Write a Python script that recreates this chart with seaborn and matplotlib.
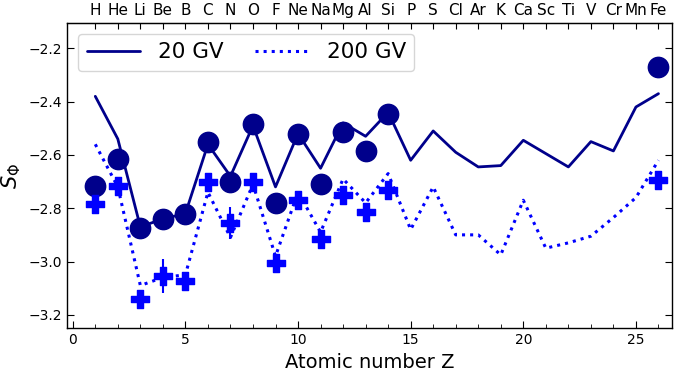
import numpy as np
import pandas as pd
import matplotlib
matplotlib.use("Agg")
import matplotlib.pyplot as plt
import seaborn as sns
from matplotlib.ticker import MultipleLocator

# Element symbols for the top axis
elements = ['H', 'He', 'Li', 'Be', 'B', 'C', 'N', 'O', 'F', 'Ne', 'Na', 'Mg', 'Al',
            'Si', 'P', 'S', 'Cl', 'Ar', 'K', 'Ca', 'Sc', 'Ti', 'V', 'Cr', 'Mn', 'Fe']
z_all = list(range(1, 27))

# Model curves
model_20gv = [-2.38, -2.54, -2.87, -2.84, -2.82, -2.56, -2.68, -2.49, -2.72, -2.52,
              -2.65, -2.48, -2.53, -2.44, -2.62, -2.51, -2.59, -2.645, -2.64, -2.545,
              -2.595, -2.645, -2.55, -2.585, -2.42, -2.37]
model_200gv = [-2.56, -2.72, -3.09, -3.06, -3.05, -2.74, -2.91, -2.71, -2.98, -2.74,
               -2.89, -2.69, -2.78, -2.67, -2.88, -2.72, -2.90, -2.90, -2.975, -2.77,
               -2.95, -2.93, -2.905, -2.835, -2.76, -2.62]

# Data points
z_data = [1, 2, 3, 4, 5, 6, 7, 8, 9, 10, 11, 12, 13, 14, 26]
data_20gv = [-2.715, -2.615, -2.875, -2.84, -2.82, -2.55, -2.70, -2.485, -2.78, -2.52,
             -2.71, -2.515, -2.585, -2.445, -2.27]
data_200gv = [-2.785, -2.715, -3.14, -3.055, -3.075, -2.70, -2.855, -2.70, -3.005, -2.77,
              -2.915, -2.75, -2.815, -2.73, -2.695]
err_200gv = [0.02, 0.02, 0.03, 0.065, 0.03, 0.02, 0.06, 0.02, 0.03, 0.02,
             0.03, 0.02, 0.03, 0.02, 0.02]

sns.set_style("ticks")
plt.rcParams['font.family'] = ['DejaVu Sans']
plt.rcParams['text.color'] = 'black'
plt.rcParams['axes.labelcolor'] = 'black'
plt.rcParams['xtick.color'] = 'black'
plt.rcParams['ytick.color'] = 'black'

fig, ax = plt.subplots(figsize=(6.85, 3.72), dpi=100)
fig.subplots_adjust(left=0.098, right=0.981, bottom=0.118, top=0.938)

df_model = pd.DataFrame({'Z': z_all, 's20': model_20gv, 's200': model_200gv})
df_data = pd.DataFrame({'Z': z_data, 'd20': data_20gv, 'd200': data_200gv, 'e200': err_200gv})

sns.lineplot(data=df_model, x='Z', y='s20', color='darkblue', lw=2, label='20 GV', ax=ax)
sns.lineplot(data=df_model, x='Z', y='s200', color='blue', lw=2.2, ls=':', label='200 GV', ax=ax)

ax.errorbar(df_data['Z'], df_data['d200'], yerr=df_data['e200'], fmt='none',
            ecolor='blue', elinewidth=1.5, zorder=3)
sns.scatterplot(data=df_data, x='Z', y='d20', color='darkblue', s=210, marker='o',
                edgecolor='darkblue', legend=False, zorder=4, ax=ax)
sns.scatterplot(data=df_data, x='Z', y='d200', color='blue', s=160, marker='P',
                edgecolor='blue', legend=False, zorder=4, ax=ax)

ax.set_xlim(-0.25, 26.6)
ax.set_ylim(-3.25, -2.105)
ax.xaxis.set_major_locator(MultipleLocator(5))
ax.xaxis.set_minor_locator(MultipleLocator(1))
ax.yaxis.set_major_locator(MultipleLocator(0.2))
ax.tick_params(which='both', direction='in', right=True, labelsize=10)
ax.tick_params(which='major', length=5)
ax.tick_params(which='minor', length=3)
ax.tick_params(axis='x', which='both', top=False)

ax.set_xlabel('Atomic number Z', fontsize=14)
ax.set_ylabel(r'$S_\Phi$', fontsize=15)

top = ax.secondary_xaxis('top')
top.set_xticks(z_all)
top.set_xticklabels(elements, fontsize=11)
top.tick_params(direction='in', length=4, pad=4)

ax.legend(loc='upper left', ncol=2, fontsize=15.5, handlelength=2.5,
          columnspacing=1.5, borderaxespad=0.5, frameon=True)

for sp in ax.spines.values():
    sp.set_color('black')
    sp.set_linewidth(1)

plt.savefig('out.png', dpi=100)
plt.close(fig)
